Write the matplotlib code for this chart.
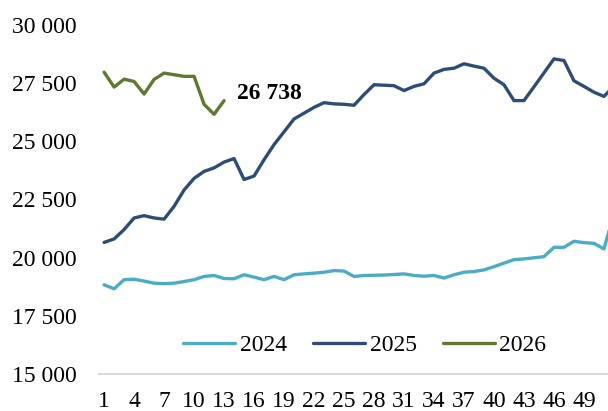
#!/usr/bin/env python3
"""Weekly values 2024-2026, line chart."""

import matplotlib
matplotlib.use("Agg")
import matplotlib.pyplot as plt
from matplotlib.ticker import FuncFormatter

weeks_2024 = list(range(1, 53))
values_2024 = [
    18830, 18660, 19050, 19070, 18990, 18900, 18880, 18900, 18970, 19050,
    19190, 19230, 19100, 19090, 19260, 19160, 19050, 19190, 19050, 19260,
    19300, 19330, 19370, 19440, 19420, 19190, 19230, 19240, 19250, 19270,
    19300, 19230, 19200, 19230, 19120, 19260, 19370, 19400, 19470, 19610,
    19760, 19910, 19940, 19990, 20040, 20440, 20440, 20700, 20640, 20610,
    20370, 21900,
]

weeks_2025 = list(range(1, 53))
values_2025 = [
    20650, 20800, 21200, 21700, 21800, 21700, 21650, 22200, 22900, 23400,
    23700, 23850, 24100, 24250, 23350, 23500, 24200, 24850, 25400, 25950,
    26200, 26450, 26650, 26600, 26580, 26540, 27000, 27420, 27400, 27380,
    27170, 27350, 27460, 27920, 28080, 28130, 28320, 28220, 28130, 27700,
    27420, 26740, 26740, 27330, 27930, 28530, 28460, 27590, 27350, 27100,
    26920, 27350,
]

weeks_2026 = list(range(1, 14))
values_2026 = [
    27960, 27320, 27660, 27560, 27020, 27650, 27920, 27850, 27780, 27780,
    26580, 26150, 26738,
]

colors = {"2024": "#4BACC6", "2025": "#2C4D75", "2026": "#5F7A30"}


def thousands(v, _pos):
    return f"{int(v):,}".replace(",", " ")


def main() -> None:
    plt.rcParams["font.family"] = ["Liberation Serif", "DejaVu Serif"]
    fig = plt.figure(figsize=(6.08, 4.11), dpi=100)
    ax = fig.add_axes([0.163, 0.09, 0.855, 0.85])

    ax.plot(weeks_2024, values_2024, color=colors["2024"], linewidth=2.4, label="2024",
            solid_capstyle="round")
    ax.plot(weeks_2025, values_2025, color=colors["2025"], linewidth=2.4, label="2025",
            solid_capstyle="round")
    ax.plot(weeks_2026, values_2026, color=colors["2026"], linewidth=2.4, label="2026",
            solid_capstyle="round")

    ax.annotate(thousands(values_2026[-1], None), (weeks_2026[-1], values_2026[-1]),
                xytext=(9, 5), textcoords="offset points", ha="left", va="center",
                fontsize=17, fontweight="bold")

    ax.set_xlim(0.5, 52.5)
    ax.set_ylim(15000, 30000)
    ax.set_xticks(range(1, 50, 3))
    ax.set_yticks(range(15000, 30001, 2500))
    ax.yaxis.set_major_formatter(FuncFormatter(thousands))
    ax.tick_params(axis="both", length=0, labelsize=17)
    ax.tick_params(axis="y", pad=16)
    ax.tick_params(axis="x", pad=12)

    for side in ("top", "right", "left"):
        ax.spines[side].set_visible(False)
    ax.spines["bottom"].set_color("#D9D9D9")
    ax.spines["bottom"].set_linewidth(1.5)

    fig.legend(loc="center", bbox_to_anchor=(0.6, 0.16), ncol=3, frameon=False,
               fontsize=17, handlelength=2.2, handletextpad=0.2, columnspacing=1.1)

    fig.savefig("out.png", dpi=100)
    plt.close(fig)


if __name__ == "__main__":
    main()
